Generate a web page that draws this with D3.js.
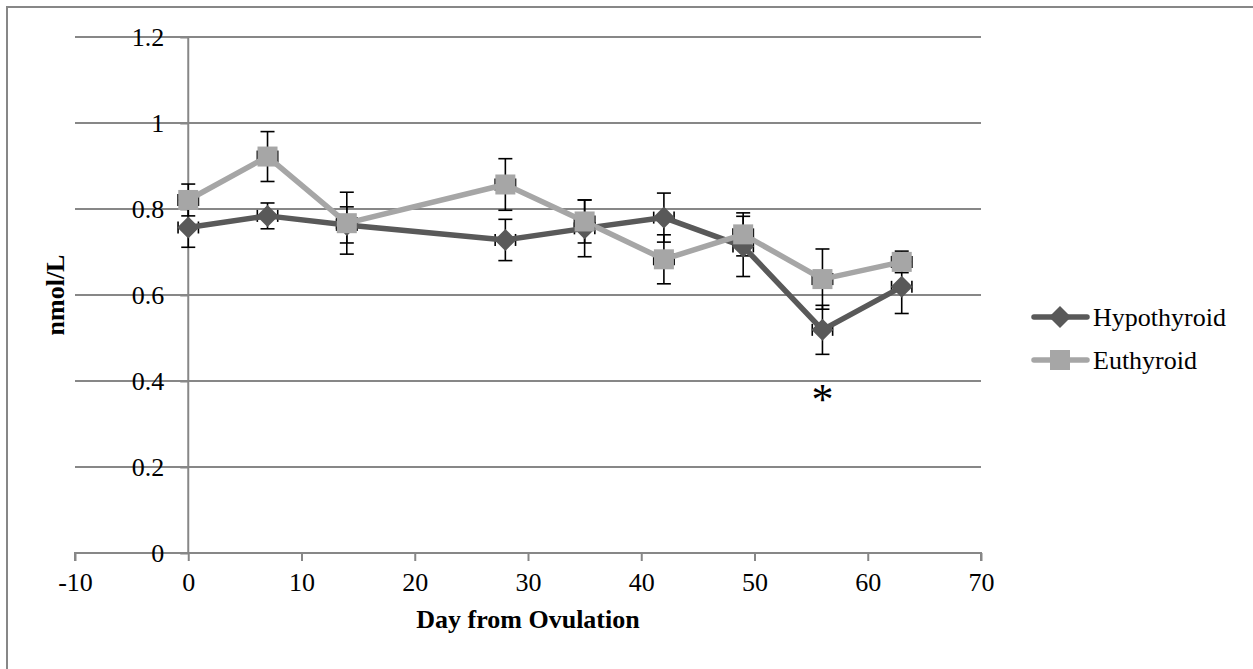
<!DOCTYPE html>
<html><head><meta charset="utf-8">
<script src="https://cdn.jsdelivr.net/npm/d3@7"></script>
<style>body{margin:0;background:#fff}svg{display:block}</style>
</head><body>
<svg id="c" width="1253" height="669"></svg>
<script>
const days = [0, 7, 14, 28, 35, 42, 49, 56, 63];
const hypoValues = [0.757, 0.784, 0.763, 0.728, 0.755, 0.780, 0.713, 0.519, 0.619];
const hypoErrors = [0.046, 0.030, 0.042, 0.048, 0.066, 0.057, 0.070, 0.057, 0.062];
const euValues = [0.821, 0.922, 0.767, 0.857, 0.771, 0.683, 0.741, 0.637, 0.677];
const euErrors = [0.037, 0.058, 0.072, 0.060, 0.050, 0.057, 0.050, 0.070, 0.025];
const xErrorDays = 0.9;
const xTicks = [-10, 0, 10, 20, 30, 40, 50, 60, 70];
const yTicks = [0, 0.2, 0.4, 0.6, 0.8, 1, 1.2];
const seriesNames = ["Hypothyroid", "Euthyroid"];
const markedDay = 56;

const svg = d3.select("#c");
const font = "'Liberation Serif','Times New Roman',serif";
const grid = "#878787";
const colors = ["#595959", "#A6A6A6"];

const x = d3.scaleLinear().domain([-10, 70]).range([75, 981]);
const y = d3.scaleLinear().domain([0, 1.2]).range([553, 37]);

// outer frame
svg.append("path").attr("d", "M7,670 L7,7 L1260,7").attr("fill", "none")
  .attr("stroke", grid).attr("stroke-width", 2);

// gridlines
svg.append("g").selectAll("line").data(yTicks.filter(d => d > 0)).join("line")
  .attr("x1", x(-10)).attr("x2", x(70)).attr("y1", d => y(d)).attr("y2", d => y(d))
  .attr("stroke", grid).attr("stroke-width", 2);

// x axis
const xAxis = svg.append("g").attr("transform", `translate(0,${y(0)})`)
  .call(d3.axisBottom(x).tickValues(xTicks).tickSize(8).tickPadding(12).tickFormat(d => String(d)));
xAxis.select(".domain").attr("stroke", grid).attr("stroke-width", 2).attr("d", `M${x(-10)},8V0H${x(70)}V8`);
xAxis.selectAll(".tick line").attr("stroke", grid).attr("stroke-width", 2);
xAxis.selectAll(".tick text").attr("font-family", font).attr("font-size", 26).attr("fill", "#000");

// y axis at x=0
const yAxis = svg.append("g").attr("transform", `translate(${x(0)},0)`)
  .call(d3.axisLeft(y).tickValues(yTicks).tickSize(8).tickPadding(16).tickFormat(d => String(+d.toFixed(1))));
yAxis.select(".domain").attr("stroke", grid).attr("stroke-width", 2).attr("d", `M0,${y(1.2)}V${y(0)}`);
yAxis.selectAll(".tick line").attr("stroke", grid).attr("stroke-width", 2);
yAxis.selectAll(".tick text").attr("font-family", font).attr("font-size", 26).attr("fill", "#000").attr("dy", "0.34em");

const series = [
  {name: seriesNames[0], vals: hypoValues, errs: hypoErrors, color: colors[0], shape: "diamond"},
  {name: seriesNames[1], vals: euValues, errs: euErrors, color: colors[1], shape: "square"}
];

// error bars
series.forEach(s => {
  const g = svg.append("g").attr("stroke", "#000").attr("stroke-width", 1.6);
  days.forEach((d, i) => {
    const cx = x(d), cy = y(s.vals[i]);
    const t = y(s.vals[i] + s.errs[i]), b = y(s.vals[i] - s.errs[i]);
    g.append("line").attr("x1", cx).attr("x2", cx).attr("y1", t).attr("y2", b);
    g.append("line").attr("x1", cx - 7).attr("x2", cx + 7).attr("y1", t).attr("y2", t);
    g.append("line").attr("x1", cx - 7).attr("x2", cx + 7).attr("y1", b).attr("y2", b);
    const l = x(d - xErrorDays), r = x(d + xErrorDays);
    g.append("line").attr("x1", l).attr("x2", r).attr("y1", cy).attr("y2", cy);
    g.append("line").attr("x1", l).attr("x2", l).attr("y1", cy - 6).attr("y2", cy + 6);
    g.append("line").attr("x1", r).attr("x2", r).attr("y1", cy - 6).attr("y2", cy + 6);
  });
});

// lines
const line = d3.line().x(d => x(d[0])).y(d => y(d[1]));
series.forEach(s => {
  svg.append("path").datum(days.map((d, i) => [d, s.vals[i]])).attr("d", line)
    .attr("fill", "none").attr("stroke", s.color).attr("stroke-width", 5.5)
    .attr("stroke-linejoin", "round").attr("stroke-linecap", "round");
});

function marker(g, shape, cx, cy, color) {
  if (shape === "square") {
    g.append("rect").attr("x", cx - 10).attr("y", cy - 10).attr("width", 20).attr("height", 20)
      .attr("fill", color);
  } else {
    g.append("path").attr("d", `M${cx},${cy - 11}L${cx + 11},${cy}L${cx},${cy + 11}L${cx - 11},${cy}Z`)
      .attr("fill", color);
  }
}
series.forEach(s => {
  const g = svg.append("g");
  days.forEach((d, i) => marker(g, s.shape, x(d), y(s.vals[i]), s.color));
});

// asterisk
svg.append("text").attr("x", x(markedDay)).attr("y", 414).attr("text-anchor", "middle")
  .attr("font-family", font).attr("font-size", 44).text("*");

// axis titles
svg.append("text").attr("x", 528).attr("y", 628).attr("text-anchor", "middle")
  .attr("font-family", font).attr("font-weight", "bold").attr("font-size", 26).text("Day from Ovulation");
svg.append("text").attr("transform", "translate(64,295) rotate(-90)").attr("text-anchor", "middle")
  .attr("font-family", font).attr("font-weight", "bold").attr("font-size", 26).text("nmol/L");

// legend
series.forEach((s, i) => {
  const ly = 317 + i * 43;
  const g = svg.append("g");
  g.append("line").attr("x1", 1034).attr("x2", 1087).attr("y1", ly).attr("y2", ly)
    .attr("stroke", s.color).attr("stroke-width", 5.5).attr("stroke-linecap", "round");
  marker(g, s.shape, 1060, ly, s.color);
  g.append("text").attr("x", 1093).attr("y", ly + 9).attr("font-family", font).attr("font-size", 26)
    .attr("fill", "#000").text(s.name);
});
</script>
</body></html>
